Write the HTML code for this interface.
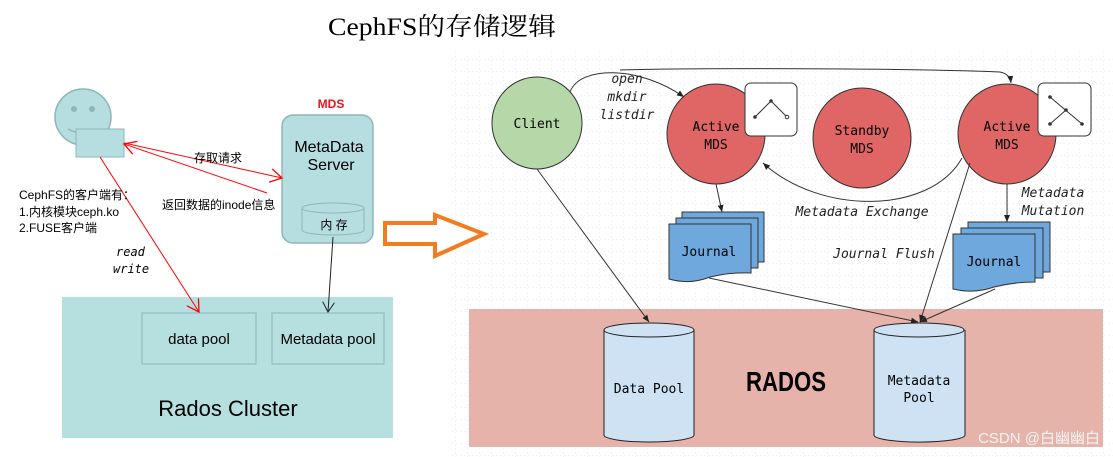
<!DOCTYPE html>
<html><head><meta charset="utf-8"><style>
html,body{margin:0;padding:0;background:#fff;}
svg{display:block;}
.m{font-family:"DejaVu Sans Mono","Liberation Mono",monospace;}
.s{font-family:"Liberation Sans","Noto Sans CJK SC",sans-serif;}
</style></head><body>
<svg width="1113" height="457" viewBox="0 0 1113 457" xmlns="http://www.w3.org/2000/svg">
<defs>
<pattern id="g" width="12" height="12" patternUnits="userSpaceOnUse"><path d="M12 0V12M0 12H12" stroke="#e6eef4" stroke-width="1" stroke-dasharray="2 2" fill="none"/></pattern>
<marker id="ab" markerWidth="8" markerHeight="8" refX="7" refY="4" orient="auto" markerUnits="userSpaceOnUse"><path d="M0,1 L7,4 L0,7 Z" fill="#222"/></marker>
<marker id="ao" markerWidth="12" markerHeight="12" refX="10" refY="6" orient="auto" markerUnits="userSpaceOnUse"><path d="M0,0 L10,6 L0,12" fill="none" stroke="#222" stroke-width="1"/></marker>
<marker id="ar" markerWidth="14" markerHeight="14" refX="12" refY="7" orient="auto" markerUnits="userSpaceOnUse"><path d="M0,0 L12,7 L0,14" fill="none" stroke="#f00" stroke-width="1.3"/></marker>
</defs>
<rect x="450" y="50" width="663" height="407" fill="url(#g)"/>
<text x="442" y="35" text-anchor="middle" font-family="'Liberation Serif','Noto Serif CJK SC',serif" font-size="25" textLength="228" lengthAdjust="spacingAndGlyphs" fill="#000">CephFS的存储逻辑</text>

<!-- left diagram -->
<circle cx="83" cy="117" r="28" fill="#b6dde0" stroke="#8fb5b8" stroke-width="1.5"/>
<circle cx="74" cy="109" r="3" fill="#8fb5b8"/><circle cx="92" cy="109" r="3" fill="#8fb5b8"/>
<path d="M68 129 Q83 137 98 129" fill="none" stroke="#8fb5b8" stroke-width="1.5"/>
<rect x="76" y="129" width="48" height="28" fill="#b6dde0" stroke="#8fb5b8"/>
<text x="331" y="108" text-anchor="middle" class="s" font-size="12" font-weight="bold" fill="#e8141a">MDS</text>
<rect x="282" y="115" width="91" height="128" rx="11" fill="#b6dde0" stroke="#8fb5b8" stroke-width="1.5"/>
<text x="329" y="152" text-anchor="middle" class="s" font-size="16">MetaData</text>
<text x="331" y="170" text-anchor="middle" class="s" font-size="16">Server</text>
<path d="M302 208 V230 A31 5 0 0 0 364 230 V208" fill="#b6dde0" stroke="#8fb5b8"/>
<ellipse cx="333" cy="208" rx="31" ry="5" fill="#b6dde0" stroke="#8fb5b8"/>
<text x="334" y="229" text-anchor="middle" class="s" font-size="12">内 存</text>
<rect x="62" y="297" width="331" height="141" fill="#b6dfe0"/>
<rect x="142" y="313" width="114" height="51" fill="#b6dfe0" stroke="#8fb5b8"/>
<rect x="272" y="313" width="112" height="51" fill="#b6dfe0" stroke="#8fb5b8"/>
<text x="199" y="344" text-anchor="middle" class="s" font-size="15">data pool</text>
<text x="328" y="344" text-anchor="middle" class="s" font-size="15">Metadata pool</text>
<text x="228" y="416" text-anchor="middle" class="s" font-size="22">Rados Cluster</text>
<line x1="124" y1="143" x2="282" y2="178" stroke="#f00" stroke-width="1" marker-end="url(#ar)"/>
<line x1="267" y1="193" x2="124" y2="144" stroke="#f00" stroke-width="1" marker-end="url(#ar)"/>
<line x1="100" y1="157" x2="199" y2="312" stroke="#f00" stroke-width="1" marker-end="url(#ar)"/>
<line x1="333" y1="237" x2="328" y2="312" stroke="#222" stroke-width="1" marker-end="url(#ao)"/>
<text x="194" y="162" class="s" font-size="12">存取请求</text>
<text x="162" y="209" class="s" font-size="12">返回数据的inode信息</text>
<text x="19" y="199" class="s" font-size="12">CephFS的客户端有：</text>
<text x="19" y="216" class="s" font-size="12">1.内核模块ceph.ko</text>
<text x="19" y="232" class="s" font-size="12">2.FUSE客户端</text>
<text x="116" y="256" class="m" font-size="12" font-style="italic">read</text>
<text x="113" y="273" class="m" font-size="12" font-style="italic">write</text>

<!-- orange arrow -->
<path d="M385 223 H435 V215 L484 234 L435 256 V244 H385 Z" fill="#fff" stroke="#f47b20" stroke-width="4" stroke-linejoin="miter"/>

<!-- right diagram -->
<rect x="469" y="309" width="634" height="138" fill="#e6b3aa"/>
<path d="M604 330 V435 A45 7 0 0 0 694 435 V330" fill="#cfe2f3" stroke="#222"/>
<ellipse cx="649" cy="330" rx="45" ry="7" fill="#cfe2f3" stroke="#222"/>
<path d="M874 330 V435 A45 7 0 0 0 965 435 V330" fill="#cfe2f3" stroke="#222"/>
<ellipse cx="919" cy="330" rx="45" ry="7" fill="#cfe2f3" stroke="#222"/>
<text x="649" y="393" text-anchor="middle" class="m" font-size="13">Data Pool</text>
<text x="919" y="385" text-anchor="middle" class="m" font-size="13">Metadata</text>
<text x="919" y="402" text-anchor="middle" class="m" font-size="13">Pool</text>
<text x="746" y="391" class="s" font-weight="bold" font-size="28" textLength="80" lengthAdjust="spacingAndGlyphs">RADOS</text>

<ellipse cx="537" cy="123" rx="45" ry="46" fill="#b6d7a8" stroke="#333"/>
<text x="537" y="128" text-anchor="middle" class="m" font-size="13">Client</text>
<ellipse cx="716" cy="134" rx="49" ry="50" fill="#e06666" stroke="#333"/>
<text x="716" y="131" text-anchor="middle" class="m" font-size="13">Active</text>
<text x="716" y="149" text-anchor="middle" class="m" font-size="13">MDS</text>
<ellipse cx="862" cy="138" rx="49" ry="50" fill="#e06666" stroke="#333"/>
<text x="862" y="135" text-anchor="middle" class="m" font-size="13">Standby</text>
<text x="862" y="153" text-anchor="middle" class="m" font-size="13">MDS</text>
<ellipse cx="1007" cy="134" rx="49" ry="50" fill="#e06666" stroke="#333"/>
<text x="1007" y="131" text-anchor="middle" class="m" font-size="13">Active</text>
<text x="1007" y="149" text-anchor="middle" class="m" font-size="13">MDS</text>
<rect x="745" y="83" width="52" height="53" rx="6" fill="#fff" stroke="#333"/>
<path d="M755 117 L771 101 L787 117" fill="none" stroke="#333"/>
<circle cx="755" cy="117" r="1.8" fill="#333"/><circle cx="771" cy="101" r="1.8" fill="#333"/><circle cx="787" cy="117" r="1.8" fill="#fff" stroke="#333"/>
<rect x="1038" y="83" width="53" height="53" rx="6" fill="#fff" stroke="#333"/>
<path d="M1050 97 L1082 124 M1066 110 L1050 124" fill="none" stroke="#333"/>
<circle cx="1050" cy="97" r="1.8" fill="#333"/><circle cx="1066" cy="110" r="1.8" fill="#333"/><circle cx="1082" cy="124" r="1.8" fill="#333"/><circle cx="1050" cy="124" r="1.8" fill="#333"/>

<!-- journals -->
<g fill="#6fa8dc" stroke="#333">
<rect x="682" y="212" width="82" height="50"/>
<rect x="676" y="218" width="82" height="50"/>
<path d="M669 224 H751 V273 Q730 272 710 277 Q690 285 669 279 Z"/>
<rect x="968" y="222" width="82" height="50"/>
<rect x="961" y="228" width="82" height="50"/>
<path d="M953 234 H1035 V282 Q1014 282 994 287 Q974 294 953 289 Z"/>
</g>
<text x="709" y="256" text-anchor="middle" class="m" font-size="13">Journal</text>
<text x="994" y="266" text-anchor="middle" class="m" font-size="13">Journal</text>

<!-- connectors -->
<g fill="none" stroke="#333" stroke-width="1">
<path d="M570 92 C580 65 640 66 684 97" marker-end="url(#ab)"/>
<path d="M620 70 C700 68 900 68 1000 72 Q1010 74 1011 83" marker-end="url(#ab)"/>
<path d="M962 158 C930 215 820 215 763 163" marker-end="url(#ab)"/>
<line x1="537" y1="169" x2="649" y2="322" marker-end="url(#ab)"/>
<line x1="716" y1="184" x2="722" y2="212" marker-end="url(#ab)"/>
<line x1="1007" y1="184" x2="1007" y2="222" marker-end="url(#ab)"/>
<line x1="709" y1="278" x2="918" y2="322" marker-end="url(#ab)"/>
<line x1="995" y1="289" x2="920" y2="322" marker-end="url(#ab)"/>
<line x1="970" y1="163" x2="920" y2="322" marker-end="url(#ab)"/>
</g>
<g class="m" font-size="13" font-style="italic" fill="#222">
<text x="627" y="83" text-anchor="middle">open</text>
<text x="627" y="101" text-anchor="middle">mkdir</text>
<text x="627" y="119" text-anchor="middle">listdir</text>
<text x="862" y="216" text-anchor="middle">Metadata Exchange</text>
<text x="884" y="258" text-anchor="middle">Journal Flush</text>
<text x="1053" y="197" text-anchor="middle">Metadata</text>
<text x="1053" y="215" text-anchor="middle">Mutation</text>
</g>
<text x="1100" y="443" text-anchor="end" class="s" font-size="15" fill="#f4f4f4">CSDN @白幽幽白</text>
</svg>
</body></html>
